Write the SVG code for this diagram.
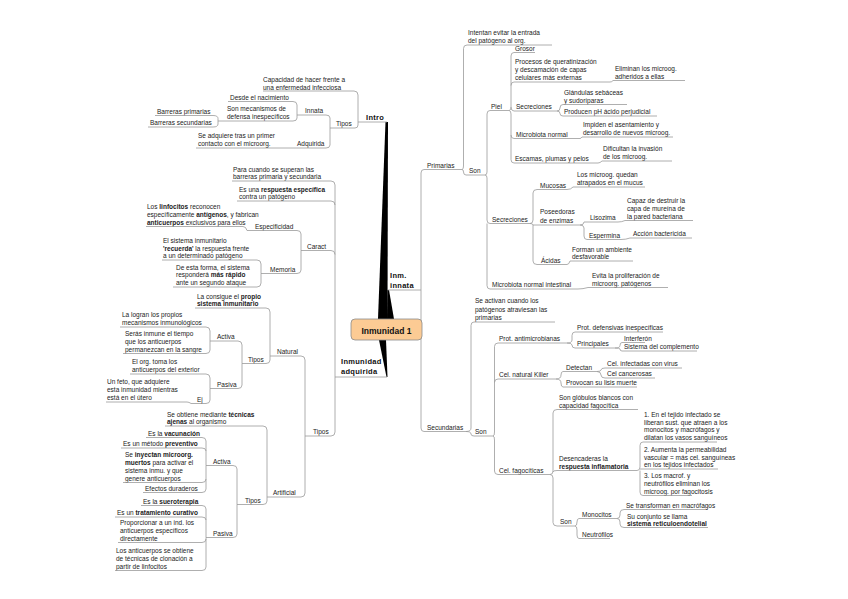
<svg xmlns="http://www.w3.org/2000/svg" width="848" height="599" viewBox="0 0 848 599">
<style>
.t{font-family:"Liberation Sans",Arial,sans-serif;font-size:6.5px;fill:#222}
.b{font-weight:bold}
.m{font-family:"Liberation Sans",Arial,sans-serif;font-size:7.5px;font-weight:bold;fill:#111;letter-spacing:0.3px}
.u{stroke:#9a9a9a;stroke-width:0.8;fill:none}
.w{fill:#000}
</style>
<rect width="848" height="599" fill="#fff"/>
<g id="wedges">
<polygon class="w" points="385.5,122 388,122 387.5,319 378,319"/>
<polygon class="w" points="387.5,290 389,290 394,319 387,319"/>
<polygon class="w" points="379,340 386,340 387.5,377 386.5,377"/>
</g>
<g id="connectors">
<path class="u" d="M354,91 Q358,91 358,95 V122"/>
<path class="u" d="M355,128 Q358,128 358,125 V122"/>
<path class="u" d="M326,115 Q330,115 330,118 V128 H333"/>
<path class="u" d="M326,148 Q330,148 330,145 V128"/>
<path class="u" d="M293,101.5 Q297,101.5 297,105 V115 H299"/>
<path class="u" d="M293,121 Q297,121 297,118 V115"/>
<path class="u" d="M213,115.5 Q218,115.5 218,118.5 V121 H225"/>
<path class="u" d="M213,127 Q218,127 218,124 V121"/>
<path class="u" d="M283,148 H287"/>
<path class="u" d="M331,181 Q335,181 335,185 V377"/>
<path class="u" d="M331,201 Q335,201 335,205"/>
<path class="u" d="M331,250.5 Q335,250.5 335,254.5"/>
<path class="u" d="M331,436 Q335,436 335,432 V377"/>
<path class="u" d="M297,230.5 Q301,230.5 301,234 V250.5 H302"/>
<path class="u" d="M297,273.5 Q301,273.5 301,270 V250.5"/>
<path class="u" d="M243,226.5 Q246,226.5 247,230.5"/>
<path class="u" d="M257,260 Q261,260 261,264 V273.5 H262"/>
<path class="u" d="M257,287 Q261,287 261,283 V273.5"/>
<path class="u" d="M301,356 Q305,356 305,360 V436 H308"/>
<path class="u" d="M301,497 Q305,497 305,493 V436"/>
<path class="u" d="M266,308 Q270,308 270,312 V356 H272"/>
<path class="u" d="M266,363.5 Q270,363.5 270,360 V356"/>
<path class="u" d="M238,341 Q242,341 242,345 V363.5 H245"/>
<path class="u" d="M238,388.5 Q242,388.5 242,385 V363.5"/>
<path class="u" d="M206,327 Q210,327 210,331 V341 H214"/>
<path class="u" d="M206,353.5 Q210,353.5 210,350 V341"/>
<path class="u" d="M206,374 Q210,374 210,378 V388.5 H214"/>
<path class="u" d="M206,403.5 Q210,403.5 210,400 V388.5"/>
<path class="u" d="M187,402 Q189,402 191,403.5"/>
<path class="u" d="M263,426 Q267,426 267,430 V497 H268"/>
<path class="u" d="M263,504.5 Q267,504.5 267,501 V497"/>
<path class="u" d="M233,465.5 Q237,465.5 237,469 V504.5 H241"/>
<path class="u" d="M233,537.5 Q237,537.5 237,534 V504.5"/>
<path class="u" d="M202,437.5 Q206,437.5 206,441 V465.5 H207"/>
<path class="u" d="M202,448 Q206,448 206,451"/>
<path class="u" d="M202,482.5 Q206,482.5 206,479 V465.5"/>
<path class="u" d="M202,492.5 Q206,492.5 206,489 V479"/>
<path class="u" d="M202,505.5 Q206,505.5 206,509 V537.5 H207"/>
<path class="u" d="M202,517 Q206,517 206,520"/>
<path class="u" d="M202,542.5 Q206,542.5 206,539 V537.5"/>
<path class="u" d="M202,570.5 Q206,570.5 206,567 V539"/>
<path class="u" d="M421,290 V173 Q421,169.5 424,169.5"/>
<path class="u" d="M421,290 V428 Q421,431.5 424,431.5"/>
<path class="u" d="M462,169.5 Q463.5,169.5 463.5,166 V48.5 Q463.5,45 467,45"/>
<path class="u" d="M462,169.5 Q463.5,169.5 463.5,172 Q463.5,175 466,175"/>
<path class="u" d="M485,175 Q487,175 487,172 V114 Q487,110.5 490,110.5"/>
<path class="u" d="M485,175 Q487,175 487,178 V220 Q487,223.5 490,223.5"/>
<path class="u" d="M487,223.5 V285.5 Q487,289 490,289"/>
<path class="u" d="M509,110.5 Q511,110.5 511,107 V56 Q511,52.5 514,52.5"/>
<path class="u" d="M511,85.5 Q511,82 514,82"/>
<path class="u" d="M511,107 Q511,111 514,111"/>
<path class="u" d="M509,110.5 Q511,110.5 511,114 V159.5 Q511,163 514,163"/>
<path class="u" d="M511,135 Q511,138.5 514,138.5"/>
<path class="u" d="M610,82 Q612,82 613,80.5"/>
<path class="u" d="M557,111 Q560,111 560,108 Q560,104.5 563,104.5"/>
<path class="u" d="M557,111 Q560,111 560,113.5 Q560,116 563,116"/>
<path class="u" d="M580,138.5 Q581,138.5 582,137"/>
<path class="u" d="M598,163 Q600,163 602,161"/>
<path class="u" d="M530,223.5 Q533,223.5 533,220 V193 Q533,189.5 537,189.5"/>
<path class="u" d="M530,223.5 Q533,223.5 533,225 H538"/>
<path class="u" d="M533,225 V261 Q533,264.5 537,264.5"/>
<path class="u" d="M567,189.5 Q571,189.5 573,187"/>
<path class="u" d="M580,225 Q584,225 584,222 H587"/>
<path class="u" d="M580,225 Q584,225 584,228 V236 Q584,239.5 587,239.5"/>
<path class="u" d="M618,222 Q622,222 625,220.5"/>
<path class="u" d="M621,239.5 Q626,239.5 630,238"/>
<path class="u" d="M567,264.5 Q569,264.5 570,261"/>
<path class="u" d="M578,289 Q583,289 588,287.5"/>
<path class="u" d="M466,431.5 Q471,431.5 471,428 V325.5 Q471,322 474,322"/>
<path class="u" d="M466,431.5 Q471,431.5 471,434 Q471,436 474,436"/>
<path class="u" d="M493,436 Q494.5,436 494.5,432 V346.5 Q494.5,343 498,343"/>
<path class="u" d="M494.5,382.5 Q494.5,379 498,379"/>
<path class="u" d="M493,436 Q494.5,436 494.5,440 V471 Q494.5,474.5 498,474.5"/>
<path class="u" d="M567,343 Q572,343 572,340 V335.5 Q572,332 575,332"/>
<path class="u" d="M567,343 Q572,343 572,345 Q572,348 575,348"/>
<path class="u" d="M615,348 Q620,348 620,345.5 Q620,342.5 622,342.5"/>
<path class="u" d="M615,348 Q620,348 620,349 Q620,351 622,351"/>
<path class="u" d="M556,379 Q561,379 561,375 Q561,371.5 563,371.5"/>
<path class="u" d="M556,379 Q561,379 561,383 Q561,387 563,387"/>
<path class="u" d="M597,371.5 Q601,371.5 601,370 Q601,368 605,368"/>
<path class="u" d="M597,371.5 Q601,371.5 601,375 Q601,378 605,378"/>
<path class="u" d="M550,474.5 Q553,474.5 553,471 V413 Q553,409.5 557,409.5"/>
<path class="u" d="M553,472 Q553,470.5 557,470.5"/>
<path class="u" d="M550,474.5 Q553,474.5 553,478 V522.5 Q553,526 557,526"/>
<path class="u" d="M637,470.5 Q640,470.5 640,467 V445.5 Q640,442 643,442"/>
<path class="u" d="M640,469 H643"/>
<path class="u" d="M640,470.5 V492 Q640,495.5 643,495.5"/>
<path class="u" d="M575,526 Q577,526 577,522 Q577,518.5 579,518.5"/>
<path class="u" d="M575,526 Q577,526 577,530 V535 Q577,538.5 579,538.5"/>
<path class="u" d="M617,518.5 Q620,518.5 620,515 V513 Q620,509.5 624,509.5"/>
<path class="u" d="M617,518.5 Q620,518.5 620,522 V524 Q620,527.5 624,527.5"/>
</g>
<g id="center">
<rect x="351" y="319" width="71" height="21" rx="4" fill="#fccb94" stroke="#8a8a8a" stroke-width="0.8"/>
<text x="386.5" y="333.5" text-anchor="middle" style="font-family:'Liberation Sans',Arial,sans-serif;font-size:8.5px;font-weight:bold;fill:#111">Inmunidad 1</text>
</g>
<g id="intro"><text class="m" x="366" y="119.5">Intro</text><path class="u" d="M358,122 H387"/></g>
<g id="adquirida"><text class="m" x="341" y="364"><tspan x="341" y="364">Inmunidad</tspan><tspan x="341" y="374">adquirida</tspan></text><path class="u" d="M335,377 H387"/></g>
<g id="innata"><text class="m" x="390" y="278"><tspan x="390" y="278">Inm.</tspan><tspan x="390" y="287.5">innata</tspan></text><path class="u" d="M388,290 H421"/></g>

<g id="capacidad"><text class="t"><tspan x="263" y="82">Capacidad de hacer frente a</tspan><tspan x="263" y="89.5">una enfermedad infecciosa</tspan></text><path class="u" d="M263,91 H354"/></g>
<g id="tipos1"><text class="t" x="336" y="126">Tipos</text><path class="u" d="M333,128 H355"/></g>
<g id="innata1"><text class="t" x="305" y="113">Innata</text><path class="u" d="M299,115 H326"/></g>
<g id="adquirida1"><text class="t" x="297" y="146">Adquirida</text><path class="u" d="M287,148 H326"/></g>
<g id="desde"><text class="t" x="230" y="99.5">Desde el nacimiento</text><path class="u" d="M228,101.5 H293"/></g>
<g id="sonmec"><text class="t"><tspan x="227" y="111">Son mecanismos de</tspan><tspan x="227" y="119">defensa inespecíficos</tspan></text><path class="u" d="M225,121 H293"/></g>
<g id="barprim"><text class="t" x="157" y="113.5">Barreras primarias</text><path class="u" d="M155,115.5 H213"/></g>
<g id="barsec"><text class="t" x="150" y="125">Barreras secundarias</text><path class="u" d="M148,127 H213"/></g>
<g id="seadq"><text class="t"><tspan x="198" y="138">Se adquiere tras un primer</tspan><tspan x="198" y="146">contacto con el microorg.</tspan></text><path class="u" d="M196,148 H283"/></g>

<g id="paracuando"><text class="t"><tspan x="233" y="172">Para cuando se superan las</tspan><tspan x="233" y="179">barreras primaria y secundaria</tspan></text><path class="u" d="M232,181 H331"/></g>
<g id="esuna"><text class="t"><tspan x="239" y="192">Es una <tspan class="b">respuesta específica</tspan></tspan><tspan x="239" y="199">contra un patógeno</tspan></text><path class="u" d="M237,201 H331"/></g>
<g id="caract"><text class="t" x="307" y="248.5">Caract</text><path class="u" d="M302,250.5 H331"/></g>
<g id="especif"><text class="t" x="255" y="228.5">Especificidad</text><path class="u" d="M247,230.5 H297"/></g>
<g id="memoria"><text class="t" x="270" y="271.5">Memoria</text><path class="u" d="M262,273.5 H297"/></g>
<g id="linfo"><text class="t"><tspan x="147" y="209">Los <tspan class="b">linfocitos</tspan> reconocen</tspan><tspan x="147" y="216.5">específicamente <tspan class="b">antígenos</tspan>, y fabrican</tspan><tspan x="147" y="224.5"><tspan class="b">anticuerpos</tspan> exclusivos para ellos</tspan></text><path class="u" d="M146,226.5 H243"/></g>
<g id="elsist"><text class="t"><tspan x="163" y="243">El sistema inmunitario</tspan><tspan x="163" y="250.5"><tspan class="b">'recuerda'</tspan> la respuesta frente</tspan><tspan x="163" y="258">a un determinado patógeno</tspan></text><path class="u" d="M162,260 H257"/></g>
<g id="deesta"><text class="t"><tspan x="176" y="269.5">De esta forma, el sistema</tspan><tspan x="176" y="277">responderá <tspan class="b">más rápido</tspan></tspan><tspan x="176" y="285">ante un segundo ataque</tspan></text><path class="u" d="M173,287 H257"/></g>

<g id="tipos2"><text class="t" x="313" y="434">Tipos</text><path class="u" d="M308,436 H331"/></g>
<g id="natural"><text class="t" x="277" y="354">Natural</text><path class="u" d="M272,356 H301"/></g>
<g id="artificial"><text class="t" x="273" y="495">Artificial</text><path class="u" d="M268,497 H301"/></g>
<g id="laconsigue"><text class="t"><tspan x="197" y="298.5">La consigue el <tspan class="b">propio</tspan></tspan><tspan x="197" y="306" class="b">sistema inmunitario</tspan></text><path class="u" d="M195,308 H266"/></g>
<g id="tiposN"><text class="t" x="248" y="361.5">Tipos</text><path class="u" d="M245,363.5 H266"/></g>
<g id="activaN"><text class="t" x="217" y="339">Activa</text><path class="u" d="M214,341 H238"/></g>
<g id="pasivaN"><text class="t" x="217" y="386.5">Pasiva</text><path class="u" d="M214,388.5 H238"/></g>
<g id="lalogran"><text class="t"><tspan x="122" y="317">La logran los propios</tspan><tspan x="122" y="325">mecanismos inmunológicos</tspan></text><path class="u" d="M120,327 H206"/></g>
<g id="seras"><text class="t"><tspan x="125" y="335.5">Serás inmune el tiempo</tspan><tspan x="125" y="343.5">que los anticuerpos</tspan><tspan x="125" y="351.5">permanezcan en la sangre</tspan></text><path class="u" d="M123,353.5 H206"/></g>
<g id="elorg"><text class="t"><tspan x="132" y="364">El org. toma los</tspan><tspan x="132" y="372">anticuerpos del exterior</tspan></text><path class="u" d="M130,374 H206"/></g>
<g id="ej"><text class="t" x="197" y="401.5">Ej</text><path class="u" d="M191,403.5 H206"/></g>
<g id="unfeto"><text class="t"><tspan x="107" y="383.5">Un feto, que adquiere</tspan><tspan x="107" y="391.5">esta inmunidad mientras</tspan><tspan x="107" y="399.5">está en el útero</tspan></text><path class="u" d="M106,402 H187"/></g>

<g id="seobtiene"><text class="t"><tspan x="167" y="416.5">Se obtiene mediante <tspan class="b">técnicas</tspan></tspan><tspan x="167" y="424"><tspan class="b">ajenas</tspan> al organismo</tspan></text><path class="u" d="M165,426 H263"/></g>
<g id="tiposA"><text class="t" x="245" y="502.5">Tipos</text><path class="u" d="M241,504.5 H263"/></g>
<g id="activaA"><text class="t" x="213" y="463.5">Activa</text><path class="u" d="M207,465.5 H233"/></g>
<g id="pasivaA"><text class="t" x="213" y="535.5">Pasiva</text><path class="u" d="M207,537.5 H233"/></g>
<g id="vacuna"><text class="t" x="148" y="435.5">Es la <tspan class="b">vacunación</tspan></text><path class="u" d="M146,437.5 H202"/></g>
<g id="metodo"><text class="t" x="123" y="446">Es un método <tspan class="b">preventivo</tspan></text><path class="u" d="M121,448 H202"/></g>
<g id="inyectan"><text class="t"><tspan x="125" y="457">Se <tspan class="b">inyectan microorg.</tspan></tspan><tspan x="125" y="464.5"><tspan class="b">muertos</tspan> para activar el</tspan><tspan x="125" y="472.5">sistema inmu. y que</tspan><tspan x="125" y="480.5">genere anticuerpos</tspan></text><path class="u" d="M123,482.5 H202"/></g>
<g id="efectos"><text class="t" x="145" y="490.5">Efectos duraderos</text><path class="u" d="M143,492.5 H202"/></g>
<g id="suero"><text class="t" x="143" y="503.5">Es la <tspan class="b">sueroterapia</tspan></text><path class="u" d="M141,505.5 H202"/></g>
<g id="trat"><text class="t" x="117" y="515">Es un <tspan class="b">tratamiento curativo</tspan></text><path class="u" d="M115,517 H202"/></g>
<g id="proporc"><text class="t"><tspan x="120" y="524.5">Proporcionar a un ind. los</tspan><tspan x="120" y="532.5">anticuerpos específicos</tspan><tspan x="120" y="540.5">directamente</tspan></text><path class="u" d="M118,542.5 H202"/></g>
<g id="losanti"><text class="t"><tspan x="116" y="552.5">Los anticuerpos se obtiene</tspan><tspan x="116" y="560.5">de técnicas de clonación a</tspan><tspan x="116" y="568.5">partir de linfocitos</tspan></text><path class="u" d="M115,570.5 H202"/></g>

<g id="primarias"><text class="t" x="427" y="167.5">Primarias</text><path class="u" d="M424,169.5 H462"/></g>
<g id="secundarias"><text class="t" x="427" y="429.5">Secundarias</text><path class="u" d="M424,431.5 H466"/></g>
<g id="intentan"><text class="t"><tspan x="468" y="35">Intentan evitar la entrada</tspan><tspan x="468" y="43">del patógeno al org.</tspan></text><path class="u" d="M467,45 H552"/></g>
<g id="son1"><text class="t" x="469" y="173">Son</text><path class="u" d="M466,175 H485"/></g>
<g id="piel"><text class="t" x="491" y="108.5">Piel</text><path class="u" d="M490,110.5 H509"/></g>
<g id="secre1"><text class="t" x="492" y="221.5">Secreciones</text><path class="u" d="M490,223.5 H530"/></g>
<g id="micint"><text class="t" x="492" y="287">Microbiota normal intestinal</text><path class="u" d="M490,289 H578"/></g>
<g id="grosor"><text class="t" x="515" y="50.5">Grosor</text><path class="u" d="M514,52.5 H535"/></g>
<g id="procesos"><text class="t"><tspan x="515" y="64">Procesos de queratinización</tspan><tspan x="515" y="72">y descamación de capas</tspan><tspan x="515" y="80">celulares más externas</tspan></text><path class="u" d="M514,82 H610"/></g>
<g id="eliminan"><text class="t"><tspan x="615" y="71">Eliminan los microog.</tspan><tspan x="615" y="78.5">adheridos a ellas</tspan></text><path class="u" d="M613,80.5 H685"/></g>
<g id="secre2"><text class="t" x="516" y="109">Secreciones</text><path class="u" d="M514,111 H557"/></g>
<g id="glandulas"><text class="t"><tspan x="564" y="94.5">Glándulas sebáceas</tspan><tspan x="564" y="102.5">y sudoríparas</tspan></text><path class="u" d="M563,104.5 H627"/></g>
<g id="producen"><text class="t" x="564" y="114">Producen pH ácido perjudicial</text><path class="u" d="M563,116 H657"/></g>
<g id="micnorm"><text class="t" x="516" y="136.5">Microbiota normal</text><path class="u" d="M514,138.5 H580"/></g>
<g id="impiden"><text class="t"><tspan x="583" y="127">Impiden el asentamiento y</tspan><tspan x="583" y="135">desarrollo de nuevos microog.</tspan></text><path class="u" d="M582,137 H673"/></g>
<g id="escamas"><text class="t" x="515" y="161">Escamas, plumas y pelos</text><path class="u" d="M514,163 H598"/></g>
<g id="dificultan"><text class="t"><tspan x="603" y="151">Dificultan la invasión</tspan><tspan x="603" y="159">de los microog.</tspan></text><path class="u" d="M602,161 H672"/></g>
<g id="mucosas"><text class="t" x="540" y="187.5">Mucosas</text><path class="u" d="M537,189.5 H567"/></g>
<g id="losmic"><text class="t"><tspan x="577" y="177">Los microog. quedan</tspan><tspan x="577" y="185">atrapados en el mucus</tspan></text><path class="u" d="M573,187 H645"/></g>
<g id="poseed"><text class="t"><tspan x="540" y="214">Poseedoras</tspan><tspan x="540" y="222.5">de enzimas</tspan></text><path class="u" d="M538,225 H580"/></g>
<g id="lisozima"><text class="t" x="590" y="220">Lisozima</text><path class="u" d="M587,222 H618"/></g>
<g id="capaz"><text class="t"><tspan x="627" y="202.5">Capaz de destruir la</tspan><tspan x="627" y="210.5">capa de mureína de</tspan><tspan x="627" y="218.5">la pared bacteriana</tspan></text><path class="u" d="M625,220.5 H693"/></g>
<g id="espermina"><text class="t" x="589" y="237.5">Espermina</text><path class="u" d="M587,239.5 H621"/></g>
<g id="accion"><text class="t" x="633" y="236">Acción bactericida</text><path class="u" d="M630,238 H692"/></g>
<g id="acidas"><text class="t" x="541" y="262.5">Ácidas</text><path class="u" d="M537,264.5 H567"/></g>
<g id="forman"><text class="t"><tspan x="572" y="252">Forman un ambiente</tspan><tspan x="572" y="259">desfavorable</tspan></text><path class="u" d="M570,261 H633"/></g>
<g id="evita"><text class="t"><tspan x="592" y="278">Evita la proliferación de</tspan><tspan x="592" y="285.5">microorg. patógenos</tspan></text><path class="u" d="M588,287.5 H668"/></g>

<g id="seactivan"><text class="t"><tspan x="475" y="303">Se activan cuando los</tspan><tspan x="475" y="311.5">patógenos atraviesan las</tspan><tspan x="475" y="319.5">primarias</tspan></text><path class="u" d="M474,322 H555"/></g>
<g id="son2"><text class="t" x="475" y="434">Son</text><path class="u" d="M474,436 H493"/></g>
<g id="prot"><text class="t" x="499" y="341">Prot. antimicrobianas</text><path class="u" d="M498,343 H567"/></g>
<g id="protdef"><text class="t" x="577" y="330">Prot. defensivas inespecíficas</text><path class="u" d="M575,332 H663"/></g>
<g id="princ"><text class="t" x="577" y="346">Principales</text><path class="u" d="M575,348 H615"/></g>
<g id="interf"><text class="t" x="624" y="340.8">Interferón</text><path class="u" d="M622,342.5 H645"/></g>
<g id="sistcomp"><text class="t" x="624" y="349.3">Sistema del complemento</text><path class="u" d="M622,351 H697"/></g>
<g id="cnk"><text class="t" x="499" y="377">Cel. natural Killer</text><path class="u" d="M498,379 H556"/></g>
<g id="detectan"><text class="t" x="566" y="369.5">Detectan</text><path class="u" d="M563,371.5 H597"/></g>
<g id="celinf"><text class="t" x="607" y="366">Cel. infectadas con virus</text><path class="u" d="M605,368 H682"/></g>
<g id="celcan"><text class="t" x="607" y="376">Cel cancerosas</text><path class="u" d="M605,378 H655"/></g>
<g id="provocan"><text class="t" x="566" y="385">Provocan su lisis muerte</text><path class="u" d="M563,387 H637"/></g>
<g id="fago"><text class="t" x="499" y="472.5">Cel. fagocíticas</text><path class="u" d="M498,474.5 H550"/></g>
<g id="songlob"><text class="t"><tspan x="559" y="399.5">Son glóbulos blancos con</tspan><tspan x="559" y="407.5">capacidad fagocítica</tspan></text><path class="u" d="M557,409.5 H638"/></g>
<g id="desenc"><text class="t"><tspan x="559" y="461">Desencaderas la</tspan><tspan x="559" y="468.5" class="b">respuesta inflamatoria</tspan></text><path class="u" d="M557,470.5 H637"/></g>
<g id="b1"><text class="t"><tspan x="644" y="417">1. En el tejido infectado se</tspan><tspan x="644" y="424.5">liberan sust. que atraen a los</tspan><tspan x="644" y="432">monocitos y macrófagos y</tspan><tspan x="644" y="440">dilatan los vasos sanguíneos</tspan></text><path class="u" d="M643,442 H717"/></g>
<g id="b2"><text class="t"><tspan x="644" y="452">2. Aumenta la permeabilidad</tspan><tspan x="644" y="459.5">vascular = más cel. sanguíneas</tspan><tspan x="644" y="467">en los tejidos infectados</tspan></text><path class="u" d="M643,469 H718"/></g>
<g id="b3"><text class="t"><tspan x="644" y="478">3. Los macrof. y</tspan><tspan x="644" y="485.5">neutrófilos eliminan los</tspan><tspan x="644" y="493.5">microog. por fagocitosis</tspan></text><path class="u" d="M643,495.5 H692"/></g>
<g id="son3"><text class="t" x="560" y="524">Son</text><path class="u" d="M557,526 H575"/></g>
<g id="monoc"><text class="t" x="582" y="516.5">Monocitos</text><path class="u" d="M579,518.5 H617"/></g>
<g id="neutro"><text class="t" x="582" y="536.5">Neutrófilos</text><path class="u" d="M579,538.5 H610"/></g>
<g id="setrans"><text class="t" x="626" y="507.5">Se transforman en macrófagos</text><path class="u" d="M624,509.5 H705"/></g>
<g id="suconj"><text class="t"><tspan x="627" y="518.5">Su conjunto se llama</tspan><tspan x="627" y="525.5" class="b">sistema reticuloendotelial</tspan></text><path class="u" d="M624,527.5 H708"/></g>
</svg>
